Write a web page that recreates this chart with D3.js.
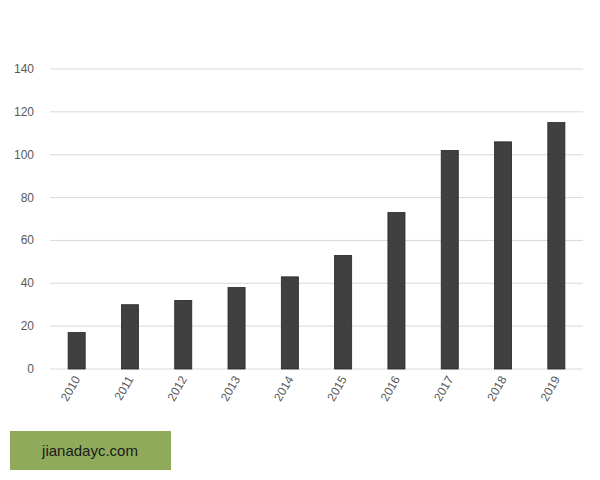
<!DOCTYPE html>
<html><head><meta charset="utf-8">
<script src="https://cdn.jsdelivr.net/npm/d3@7"></script>
<style>body{margin:0;background:#fff}</style></head>
<body><svg id="c" width="600" height="480"></svg>
<script>
const categories=["2010","2011","2012","2013","2014","2015","2016","2017","2018","2019"];
const values=[17,30,32,38,43,53,73,102,106,115];
const yTicks=[0,20,40,60,80,100,120,140];
const svg=d3.select("#c");
const m={l:50,r:583,t:69,b:369};
const x=d3.scaleBand().domain(categories).range([m.l,m.r]).paddingInner(0.68).paddingOuter(0.34);
const y=d3.scaleLinear().domain([0,140]).range([m.b,m.t]);
svg.append("g").selectAll("line").data(yTicks).join("line")
 .attr("x1",m.l).attr("x2",m.r).attr("y1",d=>y(d)).attr("y2",d=>y(d))
 .attr("stroke","#d9d9d9").attr("stroke-width",1);
svg.append("g").selectAll("text").data(yTicks).join("text")
 .attr("x",34).attr("y",d=>y(d)+4).attr("text-anchor","end")
 .attr("font-family","Liberation Sans, Arial").attr("font-size",12).attr("fill","#595959").text(d=>d);
svg.append("g").selectAll("rect").data(values).join("rect")
 .attr("x",(d,i)=>x(categories[i])).attr("width",x.bandwidth())
 .attr("y",d=>y(d)).attr("height",d=>y(0)-y(d))
 .attr("fill","#404040").attr("stroke","#262626").attr("stroke-width",0.8);
svg.append("g").selectAll("text").data(categories).join("text")
 .attr("transform",d=>`translate(${x(d)+x.bandwidth()/2+4},${m.b+10}) rotate(-60)`)
 .attr("text-anchor","end").attr("font-family","Liberation Sans, Arial").attr("font-size",12)
 .attr("fill","#595959").text(d=>d);
svg.append("rect").attr("x",10).attr("y",431).attr("width",161).attr("height",39).attr("fill","#8faa5a");
svg.append("text").attr("x",90).attr("y",456).attr("text-anchor","middle")
 .attr("font-family","Liberation Sans, Arial").attr("font-size",15).attr("fill","#1a1a1a").text("jianadayc.com");
</script></body></html>
